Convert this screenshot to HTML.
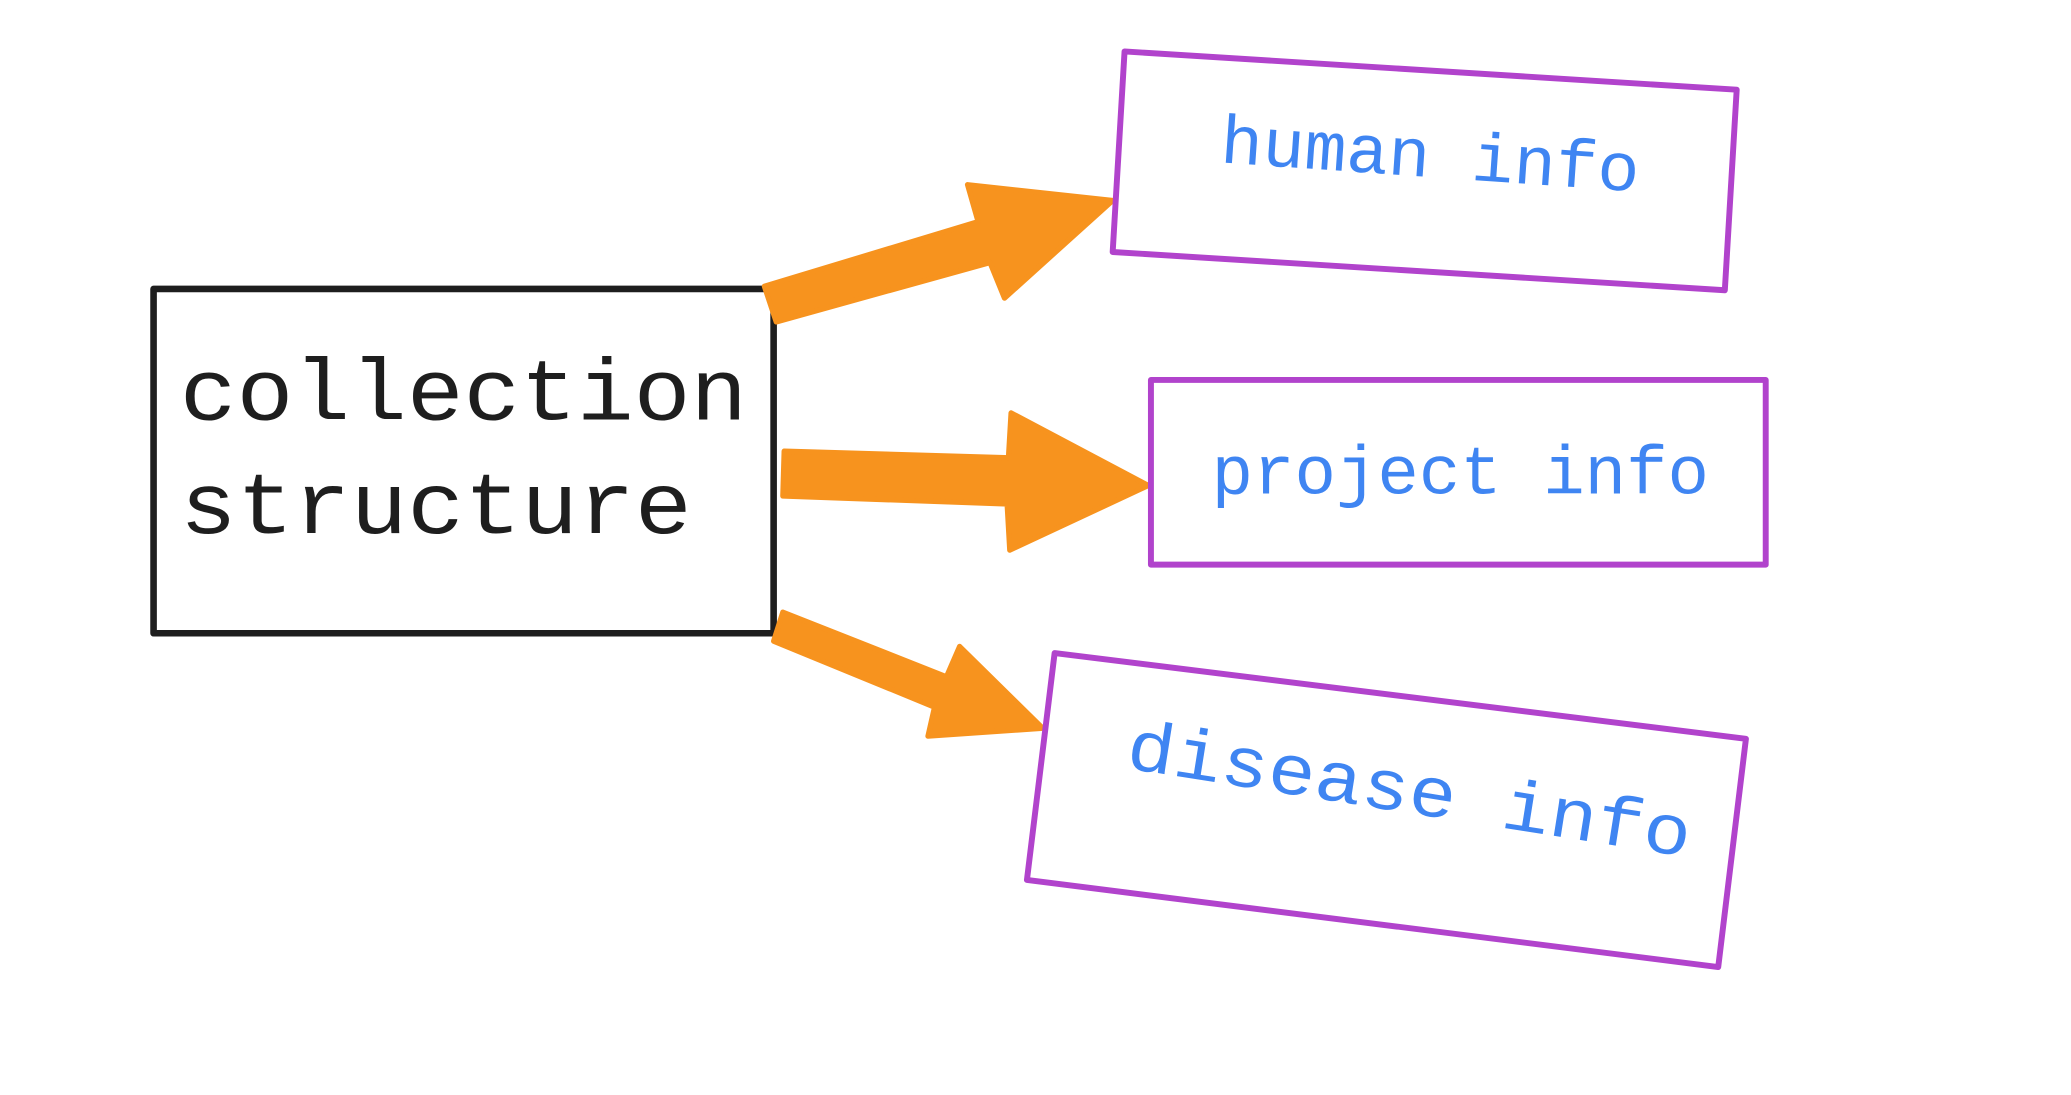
<!DOCTYPE html>
<html><head><meta charset="utf-8"><style>
html,body{margin:0;padding:0;background:#fff;width:2071px;height:1095px;overflow:hidden}
svg{display:block}
text{font-family:"Liberation Mono","DejaVu Sans Mono",monospace}
</style></head><body>
<svg width="2071" height="1095" viewBox="0 0 1569 830" xmlns="http://www.w3.org/2000/svg">
<rect width="1569" height="830" fill="#fff"/>
<rect x="116" y="219" width="470" height="261" fill="none" stroke="#1e1e1e" stroke-width="5" stroke-linejoin="round"/>
<text x="136" y="318" font-size="66" fill="#1e1e1e" textLength="430" lengthAdjust="spacingAndGlyphs">collection</text>
<text x="136" y="404" font-size="66" fill="#1e1e1e" textLength="388" lengthAdjust="spacingAndGlyphs">structure</text>

<g fill="#F7931E" stroke="#F7931E" stroke-width="4" stroke-linejoin="round">
<polygon points="579,217 741,168 733,140 843,152 761,226 750,199 588,244"/>
<polygon points="594,342 764,347 766,313 870,368 765,417 763,382 593,376"/>
<polygon points="593,464 717,513 727,490 790,552 703,558 708,536 586,486"/>
</g>

<g fill="none" stroke="#B143CC" stroke-width="4.5" stroke-linejoin="round">
<polygon points="852,39 1316,68 1307,220 843,191"/>
<rect x="872" y="288" width="466" height="140"/>
<polygon points="799,495 1323,560 1302,733 778,667"/>
</g>

<text x="924" y="123" font-size="52" fill="#3F85F2" textLength="318" lengthAdjust="spacingAndGlyphs" transform="rotate(4 924 123)">human info</text>
<text x="918" y="374" font-size="52" fill="#3F85F2" textLength="377" lengthAdjust="spacingAndGlyphs">project info</text>
<text x="852" y="582" font-size="54" fill="#3F85F2" textLength="432" lengthAdjust="spacingAndGlyphs" transform="rotate(9 852 582)">disease info</text>
</svg>
</body></html>
